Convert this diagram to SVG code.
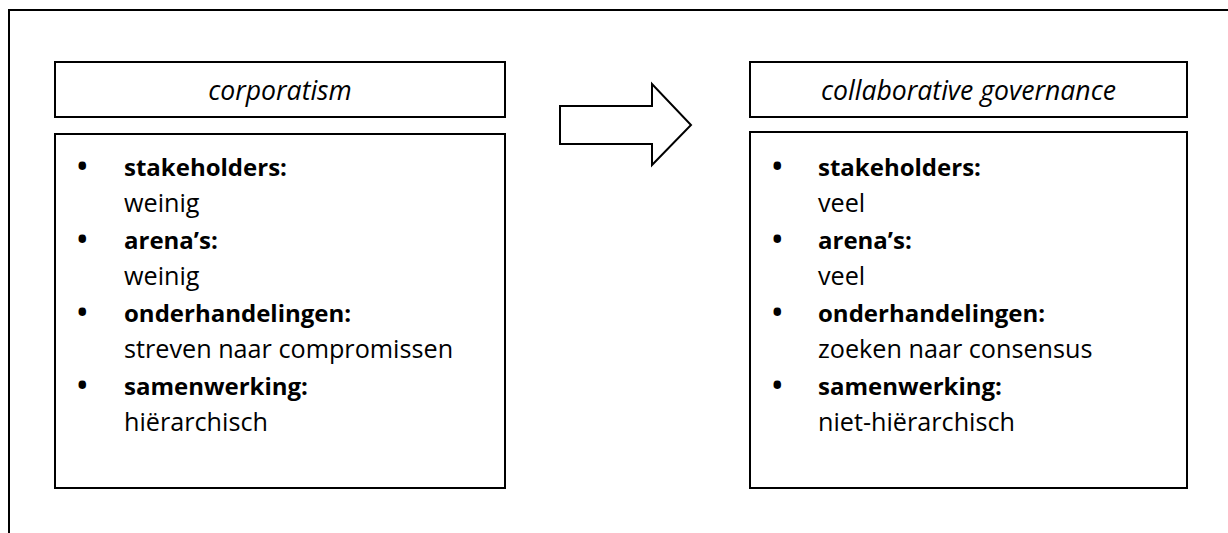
<svg xmlns="http://www.w3.org/2000/svg" width="1228" height="533" viewBox="0 0 1228 533">
<style>
.box{fill:#fff;stroke:#000;stroke-width:2}
.t{font-family:"Open Sans",Lato,"Liberation Sans",sans-serif;font-size:25.2px;fill:#000}
.h{font-style:italic;text-anchor:middle;font-size:26.6px}
.b{font-weight:bold;font-size:24px}
.u{font-size:36px}
</style>
<rect width="1228" height="533" fill="#fff"/>
<g id="frame"><path d="M9,540 V10 H1240" fill="none" stroke="#000" stroke-width="2"/></g>
<g id="left-header"><rect class="box" x="55" y="62" width="450" height="55"/><text class="t h" x="280" y="99.5">corporatism</text></g>
<g id="left-body"><rect class="box" x="55" y="134" width="450" height="354"/>
<g class="t">
<text class="u" x="75.4" y="178.5">•</text><text class="b" x="124" y="175.5">stakeholders:</text>
<text x="124" y="212">weinig</text>
<text class="u" x="75.4" y="251.5">•</text><text class="b" x="124" y="248.5">arena’s:</text>
<text x="124" y="285">weinig</text>
<text class="u" x="75.4" y="324.5">•</text><text class="b" x="124" y="321.5">onderhandelingen:</text>
<text x="124" y="358">streven naar compromissen</text>
<text class="u" x="75.4" y="397.5">•</text><text class="b" x="124" y="394.5">samenwerking:</text>
<text x="124" y="431">hiërarchisch</text>
</g></g>
<g id="connectors"><polygon points="560,106 652,106 652,84 691,125 652,165 652,144 560,144" fill="#fff" stroke="#000" stroke-width="2"/></g>
<g id="right-header"><rect class="box" x="750" y="62" width="437" height="55"/><text class="t h" x="968.5" y="99.5">collaborative governance</text></g>
<g id="right-body"><rect class="box" x="750" y="132" width="437" height="356"/>
<g class="t">
<text class="u" x="770.4" y="178.5">•</text><text class="b" x="818" y="175.5">stakeholders:</text>
<text x="818" y="212">veel</text>
<text class="u" x="770.4" y="251.5">•</text><text class="b" x="818" y="248.5">arena’s:</text>
<text x="818" y="285">veel</text>
<text class="u" x="770.4" y="324.5">•</text><text class="b" x="818" y="321.5">onderhandelingen:</text>
<text x="818" y="358">zoeken naar consensus</text>
<text class="u" x="770.4" y="397.5">•</text><text class="b" x="818" y="394.5">samenwerking:</text>
<text x="818" y="431">niet-hiërarchisch</text>
</g></g>
</svg>
